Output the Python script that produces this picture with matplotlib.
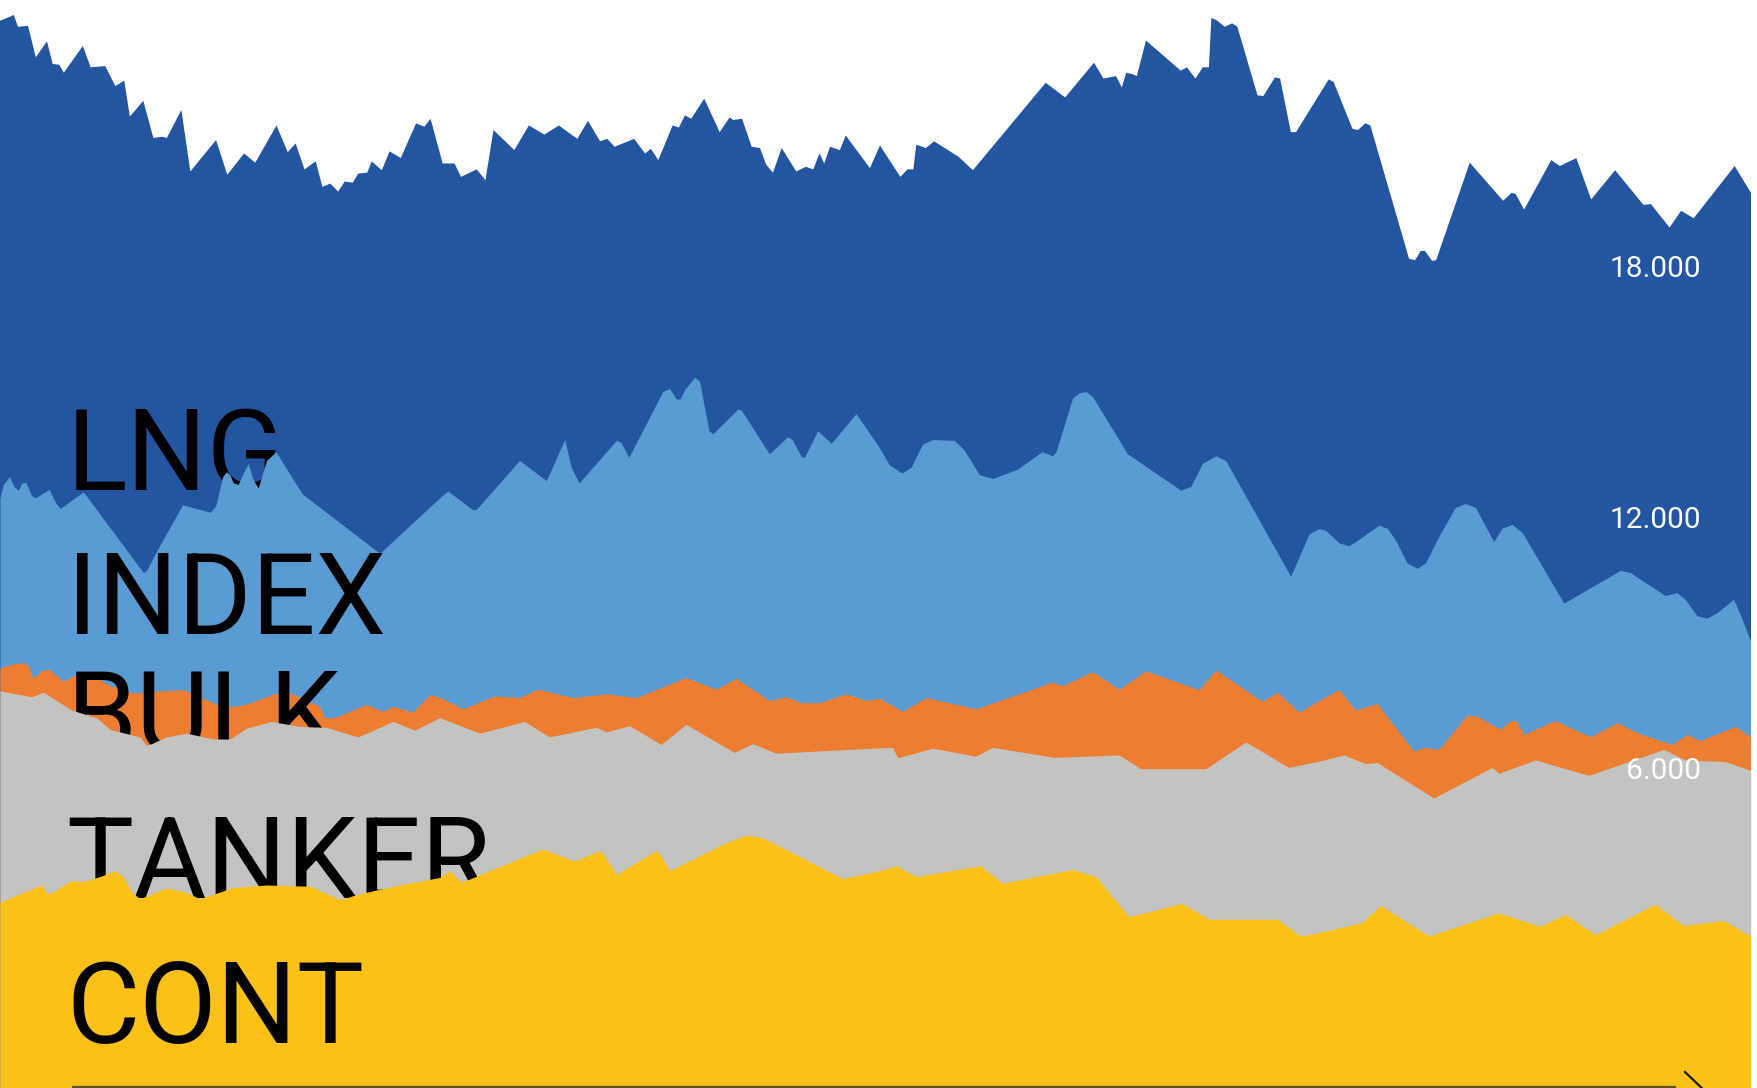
import numpy as np
import matplotlib
matplotlib.use('Agg')
import matplotlib.pyplot as plt

# --- data (day offsets, index values) ---
lng_day = [0, 6.2, 8, 12.5, 16, 21, 23.5, 26.5, 28.5, 37,
           40.5, 47, 51.5, 55.5, 58, 64, 68.5, 72.5, 74.5, 81,
           85, 96.5, 101.5, 109, 114, 123.5, 128.5, 132, 136, 141,
           144, 147.5, 151, 154, 157.5, 160, 164, 166, 170.5, 174,
           179, 185.8, 189.5, 192.3, 197.7, 203, 205.9, 212.9, 216.8, 220.4,
           229.7, 236.2, 243.1, 249.6, 257.8, 262.6, 268, 271.2, 274.5, 283.2,
           288.1, 290.7, 294, 300.4, 303.2, 305.9, 308.7, 314.5, 321.4, 325.8,
           327.5, 331.4, 335.7, 339.4, 342.2, 345.2, 349.1, 355.6, 359.9, 363.2,
           366, 368.1, 370.7, 375.1, 377.7, 388.5, 393, 402.1, 405.3, 407.9,
           409.2, 413.5, 417.2, 428.1, 434.5, 467, 475.7, 488.6, 492.8, 498.4,
           501, 503, 505.5, 507.7, 511.8, 527.3, 530.1, 533.9, 537.2, 539.9,
           541, 543.2, 547, 550.3, 552.6, 561.6, 564.2, 569.4, 571.7, 576.5,
           578.8, 593.4, 595.6, 604, 606.5, 609.7, 612, 629.3, 632, 634.5,
           636.4, 639.6, 641.4, 656.4, 671.3, 675.1, 676.9, 680.7, 692.8, 696.6,
           704, 710.6, 721.3, 734, 737.3, 745.6, 750.8, 756.4, 774.7, 780.7,
           782]
lng = [23880, 24020, 23740, 23760, 23010, 23390, 22850, 22830, 22640, 23280,
       22770, 22800, 22320, 22450, 21590, 21970, 21080, 21110, 21080, 21750,
       20280, 21030, 20200, 20710, 20490, 21380, 20740, 20950, 20330, 20520,
       19910, 19990, 19800, 20040, 20010, 20230, 20250, 20520, 20310, 20760,
       20600, 21430, 21350, 21540, 20470, 20470, 20150, 20330, 20070, 21270,
       20790, 21380, 21160, 21380, 21060, 21490, 21000, 21060, 20870, 21060,
       20710, 20820, 20550, 21380, 21330, 21620, 21540, 22020, 21220, 21570,
       21510, 21540, 20870, 20840, 20440, 20250, 20840, 20280, 20390, 20330,
       20710, 20470, 20870, 20790, 21140, 20360, 20900, 20150, 20330, 20330,
       20920, 20840, 21000, 20630, 20310, 22400, 22050, 22880, 22500, 22560,
       22290, 22640, 22610, 22560, 23410, 22690, 22770, 22500, 22770, 22770,
       23950, 23900, 23740, 23820, 23740, 22100, 22080, 22530, 22500, 21220,
       21220, 22480, 22420, 21300, 21270, 21430, 21380, 18190, 18160, 18380,
       18380, 18140, 18160, 20490, 19580, 19770, 19740, 19370, 20550, 20410,
       20600, 19610, 20310, 19480, 19500, 18940, 19340, 19160, 20410, 19880,
       19770]

index_day = [0, 1.5, 4.2, 6.2, 8.2, 9.7, 11.6, 14.2, 16, 22,
             24.5, 26.8, 37.2, 64, 65.5, 69.9, 81.5, 94, 96.4, 99.4,
             101.2, 102.7, 104.2, 106.4, 108.3, 110.8, 113, 115.3, 119, 123.2,
             135, 169.6,
             196.4, 200, 211.2, 212.7, 232, 244, 252.2, 255.1, 258.6, 275.2,
             277.4, 280.8, 296, 299, 302, 303.8, 305.7, 310.2, 312.4, 316.6,
             318.4, 329.5, 331, 343.6, 351.8, 353.8, 357.8, 359.2, 365.2, 371.2,
             382.3,
             392.7, 397.2, 402.8, 406.9, 412, 416.5, 426.2, 430.6, 437.4, 443.3,
             454.4, 465.3, 470, 471.6, 479, 482, 485, 487.9, 503.5, 527.3,
             531.8, 537, 543, 547.4, 576.4, 584.6,
             589, 592, 598, 602.4, 605.4, 615.8, 619.5, 623.2, 628.4, 632.9,
             636.6, 642.6, 650, 654.4, 658.9, 662.6, 667.1, 670.8, 675.3, 679.8,
             698.4, 723.6, 728.1, 743.7, 748.9, 752.6, 757.8, 762.3, 766.8, 774.2,
             777.2, 781.8]
index = [12480, 12800, 12980, 12750, 12660, 12830, 12840, 12520, 12480, 12680,
         12390, 12220, 12620, 10690, 10740, 11200, 12310, 12130, 12290, 12980,
         13100, 13030, 12830, 12800, 13030, 13300, 12920, 12710, 13370, 13580,
         12570, 11150,
         12480, 12640, 12190, 12200, 13370, 12890, 13870, 13210, 12830, 13850,
         13800, 13440, 15020, 15090, 14840, 14840, 15060, 15360, 15270, 14080,
         14010, 14600, 14580, 13530, 13940, 13870, 13470, 13440, 14080, 13780,
         14490,
         13680, 13260, 13070, 13210, 13760, 13870, 13850, 13620, 13030, 12940,
         13160, 13580, 13480, 13580, 14860, 14990, 15020, 14900, 13530, 12660,
         12750, 13300, 13480, 13370, 10600, 11610,
         11740, 11700, 11400, 11330, 11430, 11820, 11750, 11470, 10920, 10790,
         10920, 11560, 12250, 12340, 12250, 11880, 11430, 11750, 11840, 11650,
         9960, 10740, 10690, 10140, 10210, 10050, 9660, 9600, 9730, 10050,
         9690, 9050]

bulk_day = [0, 5.2, 10.7, 12.7, 14.9, 18.6, 22, 25.3, 28.2, 31.2,
            38, 44.6, 49.1, 59.5, 65.5, 71.4, 81.8, 89.2, 96.7, 104.2,
            110.1, 119, 126.5, 133.9, 142.8, 145, 148.8, 152.4, 163.6, 171,
            175.6, 184.4, 191.9,
            196.4, 206.8, 220.9, 232, 240.2, 255.8, 270.8, 284.1, 306.4, 319.8,
            328.8, 343.6, 351, 357.8, 366, 377.8, 386.8,
            392.7, 403.1, 413.6, 435.8, 470, 474.5, 487.9, 499.8, 511.7, 535.5,
            543, 563.8, 570.4, 580.2,
            589, 598, 605.4, 615, 631.4, 635.8, 642.6, 655.2, 659.6, 670,
            674.6, 677.5, 680.5, 694.6, 710.2, 722.2, 731.8, 746.7, 753.4, 759.3,
            775, 781.8]
bulk = [8410, 8500, 8540, 8450, 8160, 8340, 8380, 8220, 8090, 8180,
        8340, 8130, 7990, 7810, 7830, 7860, 7890, 7720, 7540, 7490,
        7540, 7720, 7860, 7720, 7490, 7220, 7220, 7280, 7540, 7370,
        7490, 7350, 7770,
        7710, 7430, 7740, 7700, 7900, 7700, 7790, 7700, 8180, 7900,
        8160, 7630, 7720, 7580, 7580, 7790, 7630,
        7690, 7370, 7700, 7430, 8070, 7980, 8320, 7900, 8340, 7890,
        8360, 7610, 7830, 7350,
        7630, 7890, 7400, 7560, 6420, 6510, 6460, 7280, 7260, 6940,
        7150, 7130, 6820, 7150, 6760, 7100, 6850, 6580, 6820, 6670,
        7010, 6760]

tanker_day = [0, 14.2, 19.4, 32, 43.2, 49.1, 62.5, 65.5, 74.4, 83.3,
              95.2, 102.7, 110.1, 121.2, 133.9, 145.8, 159.9, 175.6, 185.2,
              196.4, 214.2, 234.3, 245.4, 266.2, 270.8, 281.2, 295.2, 306.4, 328,
              336.2, 346.6,
              392.7, 398.6, 400.9, 416.5, 435.8, 443.3, 470.8, 499.8, 509.5, 538.5,
              556.4, 575.6,
              589, 600.2, 609.8, 615, 640.3, 666.4, 669.4, 685.7, 709.5, 743,
              752.6, 770.5, 781.8]
tanker = [7860, 7720, 7830, 7400, 7220, 6940, 6760, 6550, 6760, 6850,
          6710, 6710, 6970, 7130, 7010, 6990, 6760, 7130, 6920,
          7220, 6850, 7130, 6760, 6990, 6880, 7030, 6580, 7060, 6390,
          6600, 6370,
          6500, 6510, 6260, 6490, 6300, 6510, 6270, 6330, 6000, 6000,
          6640, 6030,
          6180, 6330, 6120, 6150, 5300, 6030, 5890, 6210, 5840, 6460,
          6210, 6170, 5960]

cont_day = [0, 9, 18.6, 20.9, 23.8, 31.2, 38, 44.6, 51.3, 55,
            58.8, 62.5, 74.4, 83.3, 89.2, 104.2, 119, 138.4, 151.8, 160.6,
            178.5,
            196.4, 200.8, 206, 242.4, 256.6, 267.8, 270, 275.2, 293, 295.2,
            299, 324.3, 333.2, 340.6, 376.4,
            392.7, 400.2, 409, 438, 447.8, 479, 489.4, 504.2, 528, 540,
            570.4, 580.8,
            589, 608.4, 616.5, 638.1, 669.4, 687.9, 699.1, 712.5, 739.2, 751.9,
            769.8, 781.8]
cont = [2800, 3010, 3220, 3010, 3040, 3310, 3310, 3420, 3560, 3420,
        3050, 2890, 3150, 3040, 2890, 3160, 3220, 3190, 2870, 3010,
        3220,
        3400, 3560, 3280, 4080, 3790, 4040, 3920, 3470, 4040, 3920,
        3560, 4230, 4410, 4350, 3370,
        3560, 3680, 3420, 3680, 3260, 3590, 3420, 2460, 2780, 2400,
        2400, 2000,
        2080, 2320, 2730, 2000, 2550, 2230, 2520, 2030, 2760, 2250,
        2370, 2000]

names = ['LNG', 'INDEX', 'BULK', 'TANKER', 'CONT']
days = [lng_day, index_day, bulk_day, tanker_day, cont_day]
values = [lng, index, bulk, tanker, cont]
colors = ['#2355A0', '#5B9BD4', '#ED7D31', '#C3C3C2', '#FCC116']
label_y = [0.5496, 0.4173, 0.3088, 0.1746, 0.0414]   # baselines, axes fraction
ticks = [6000, 12000, 18000]

W, H = 1757, 1088
fig = plt.figure(figsize=(W / 100, H / 100), dpi=100)
fig.patch.set_facecolor('white')
ax = fig.add_axes([0, 0, 1751 / W, 1])
ymin, ymax = -1634, 24379
ax.set_xlim(0, 782)
ax.set_ylim(ymin, ymax)
ax.axis('off')

# each series drawn from the bottom, larger ones first; its label sits
# between its own area and the next one (so the next area hides part of it)
z = 1
for name, d, v, c, ly in zip(names, days, values, colors, label_y):
    ax.fill_between(d, ymin - 500, v, color=c, lw=0, zorder=z)
    ax.text(0.038, ly, name, transform=ax.transAxes, fontsize=81,
            family=['Roboto', 'DejaVu Sans'],
            color='black', ha='left', va='baseline', zorder=z + 1)
    z += 2

# value labels: x in axes fraction, y in data
units_per_px = (ymax - ymin) / H
for t in ticks:
    ax.text(1701 / 1751, t - 10.5 * units_per_px, f'{t // 1000}.000',
            transform=ax.get_yaxis_transform(),
            fontsize=21.5, family=['Roboto', 'DejaVu Sans'],
            color='white', ha='right', va='baseline', zorder=20)

# bottom arrow
ax.plot([73 / 1751, 1675 / 1751], [0.0012, 0.0012], transform=ax.transAxes,
        color='#2a2a2a', lw=1.6, alpha=0.75, zorder=21, clip_on=False)
ax.plot([1685 / 1751, 1704 / 1751], [0.0147, -0.002], transform=ax.transAxes,
        color='#1a1a1a', lw=1.6, zorder=21, clip_on=False)

fig.savefig('out.png', dpi=100, facecolor='white')
